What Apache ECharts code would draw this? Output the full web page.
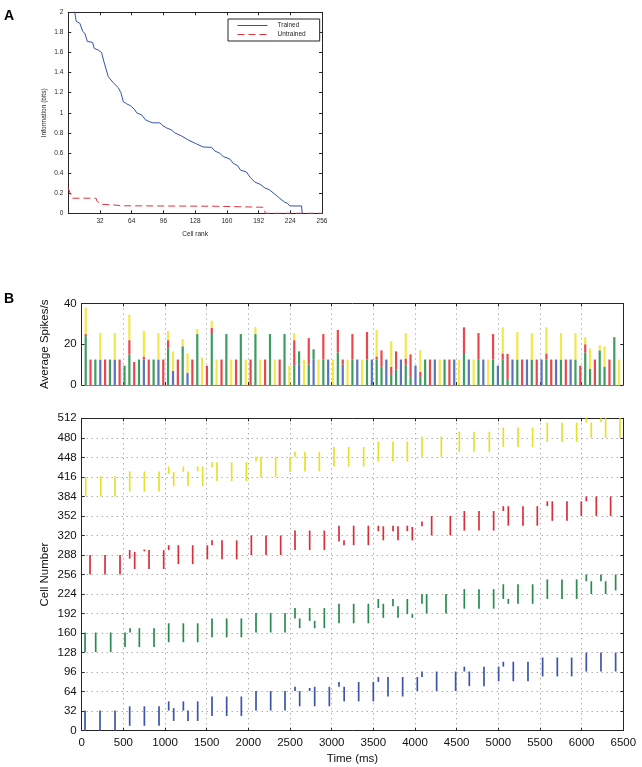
<!DOCTYPE html>
<html><head><meta charset="utf-8">
<script src="https://cdn.jsdelivr.net/npm/echarts@6/dist/echarts.min.js"></script>
<style>html,body{margin:0;padding:0;background:#fff}#c{width:642px;height:767px}</style>
</head><body><div id="c"></div>
<script>
// ---------- Panel A data ----------
const trainedRank = [1,6.5,8,11.7,14.5,16.8,19.2,24.5,26.2,30.2,33.6,35.9,40.3,45.3,50.4,53.1,55.5,58.8,62.8,67.2,68.9,73.9,77.9,82.3,85.7,92.4,95.7,99.1,104,107.5,114.2,121,129.4,136,144.5,147.8,152.9,156.3,163,166.4,170.8,173.8,179.9,183.3,188.3,193.4,198.4,202.8,208.5,213.6,218.6,221,223.6,235.4,236];
const trainedInfo = [2.4,2.0,1.91,1.89,1.81,1.79,1.71,1.70,1.64,1.625,1.60,1.51,1.36,1.30,1.25,1.20,1.11,1.09,1.07,1.03,1.00,0.98,0.93,0.91,0.90,0.90,0.87,0.85,0.83,0.80,0.77,0.73,0.69,0.66,0.656,0.62,0.598,0.565,0.54,0.498,0.474,0.43,0.41,0.36,0.31,0.29,0.252,0.235,0.19,0.148,0.108,0.10,0.073,0.073,0];
const untrainedRank = [0,2,3,4,28,29,31,33,35,46,48,54,56,149,151,197,199,256];
const untrainedInfo = [0.25,0.24,0.17,0.15,0.15,0.12,0.115,0.09,0.083,0.083,0.075,0.075,0.07,0.07,0.06,0.06,0,0];
const xTicksA = [0,32,64,96,128,160,192,224,256];

// ---------- Panel B histogram data (bin centre times, ms) ----------
const binTimes = [48,106,164,223,281,339,397,455,514,572,630,688,746,805,863,921,979,1037,1096,1154,1212,1270,1328,1387,1445,1503,1561,1619,1678,1736,1794,1852,1910,1969,2027,2085,2143,2201,2260,2318,2376,2434,2492,2551,2609,2667,2725,2783,2842,2900,2958,3016,3074,3133,3191,3249,3307,3365,3424,3482,3540,3598,3656,3715,3773,3831,3889,3947,4006,4064,4122,4180,4238,4297,4355,4413,4471,4529,4588,4646,4704,4762,4820,4879,4937,4995,5053,5111,5170,5228,5286,5344,5402,5461,5519,5577,5635,5693,5752,5810,5868,5926,5984,6043,6101,6159,6217,6275,6334,6392,6450];
const histBlue = [0,0,0,12.5,0,0,12.5,0,0,0, 0,0,12.5,0,0,12.5,0,0,7,0, 0,6,0,0,0,0,0,0,0,0, 0,0,0,0,0,0,0,0,0,0, 0,0,0,0,10,0,0,12.5,0,0, 12.5,0,0,10,0,0,12.5,0,0,12.5, 0,0,12.5,0,0,12.5,0,0,9.5,0, 0,0,12.5,0,0,0,12.5,0,0,12.5, 0,0,12.5,0,0,9.5,0,0,12.5,0, 0,12.5,0,0,12.5,0,0,12.5,0,0, 12.5,0,0,0,0,0,0,0,0,0, 0];
const histGreen = [24,0,12.5,0,0,12.5,0,0,9.5,15, 0,12.5,0,0,12.5,0,0,18,0,0, 19,0,0,25,0,0,25,0,0,25, 0,0,25,0,0,25,0,0,25,0, 0,25,0,9.5,6.5,0,10,5,0,12.5, 0,0,16,0,0,12.5,0,0,12.5,0, 12.5,9,0,5,7.5,0,10,4,0,4, 12.5,0,0,0,12.5,0,0,0,15.7,0, 0,12.5,0,0,12.5,0,12.5,3,0,12.5, 0,0,12.5,0,0,12.5,0,0,12.5,0, 0,12.5,0,16,8,0,17,9,0,23.5, 0];
const histRed = [1,12.5,0,0,12.5,0,0,12.5,0,7, 11.3,0,1.5,12.5,0,0,12.5,4,0,12.5, 0,0,12.5,0,0,9.5,3,0,12.5,0, 0,12.5,0,0,12.5,0,0,12.5,0,0, 12.5,0,0,12.5,0,0,13,0,0,12.5, 0,0,11,2.5,0,12.5,0,0,13.5,0, 1.5,8,0,4,9,0,3,11,0,2.5, 0,12.5,0,0,0,12.5,0,0,12.6,0, 0,13,0,0,12.5,0,3,12.3,0,0, 12.5,0,0,12.5,0,3,12.5,0,0,12.5, 0,0,9.5,4,0,12.5,0,0,12.5,0, 0];
const histYellow = [13,0,0,13,0,0,13,0,0,12.5, 0,0,12.5,0,0,13,0,4.5,9.5,0, 3.5,9.5,0,2.5,13.5,0,3.5,12.5,0,0, 12.5,0,0,12.5,0,3.5,12.5,0,0,12.5, 0,0,9.5,3.5,0,12.5,0,0,12.5,0, 0,12.5,0,0,12.5,0,0,12.5,0,0, 13,0,0,12.5,0,0,12.5,0,0,10.5, 0,0,0,12.5,0,0,0,12.5,0,0, 12.5,0,0,12.5,0,0,12.8,0,0,13.5, 0,0,13,0,0,12.8,0,0,13,0, 0,13,0,3.5,10,0,2.5,10,0,0, 12.5];

// ---------- Panel B raster data: [time ms, first cell, last cell] ----------
const blueSpikes = [[40,0,33],[220,0,33],[400,0,33],[576,8,40],[752,8,40],[928,8,40],[1044,33,48],[1104,16,37],[1220,33,48],[1276,16,33],[1392,16,48],[1564,24,56],[1740,24,56],[1916,24,56],[2092,33,65],[2268,33,65],[2440,33,65],[2560,65,72],[2616,40,65],[2736,65,70],[2796,40,72],[2972,40,72],[3088,72,80],[3150,48,72],[3324,48,80],[3500,48,80],[3560,80,88],[3676,56,88],[3852,56,88],[4028,65,88],[4084,88,97],[4260,65,97],[4488,65,97],[4592,97,105],[4652,73,97],[4828,73,105],[5004,81,105],[5060,105,113],[5180,81,113],[5356,81,113],[5532,89,120],[5708,89,120],[5880,89,120],[6056,97,128],[6232,97,128],[6408,97,128]];
const greenSpikes = [[40,129,161],[168,129,161],[348,129,161],[520,137,161],[580,161,168],[692,137,168],[868,137,168],[1044,145,176],[1220,145,176],[1392,145,176],[1564,153,184],[1740,153,184],[1916,153,184],[2092,161,193],[2268,161,193],[2440,161,193],[2560,184,201],[2616,168,184],[2736,180,201],[2796,168,180],[2912,168,201],[3088,176,208],[3264,176,208],[3440,176,208],[3560,201,216],[3620,185,208],[3736,204,216],[3796,185,204],[3908,191,216],[3968,185,191],[4084,208,224],[4140,192,224],[4372,192,224],[4592,200,232],[4768,200,232],[4944,200,232],[5060,216,240],[5120,208,216],[5236,208,240],[5412,208,240],[5588,216,248],[5764,216,248],[5940,216,248],[6056,245,256],[6116,224,245],[6232,245,256],[6288,224,245],[6408,230,256]];
const redSpikes = [[100,256,288],[280,256,288],[460,256,288],[576,282,296],[636,265,293],[752,294,297],[808,265,296],[984,265,296],[1044,296,304],[1160,273,304],[1332,273,304],[1508,281,304],[1564,304,312],[1684,281,312],[1860,281,312],[2036,288,320],[2212,288,320],[2388,288,320],[2560,296,328],[2736,296,328],[2912,296,328],[3088,310,336],[3148,304,312],[3264,304,336],[3440,304,336],[3560,327,336],[3620,312,335],[3736,327,336],[3796,312,335],[3908,327,336],[3968,312,334],[4084,335,343],[4200,320,352],[4424,320,352],[4592,328,360],[4768,328,360],[4944,328,360],[5060,360,368],[5120,336,368],[5296,336,368],[5468,336,368],[5588,368,376],[5648,344,376],[5824,344,376],[5996,352,376],[6056,376,384],[6176,352,384],[6348,352,384]];
const yellowSpikes = [[48,385,416],[228,384,417],[400,384,417],[576,392,425],[752,392,425],[928,392,425],[1044,421,433],[1104,401,424],[1220,424,433],[1276,401,425],[1392,425,433],[1452,401,433],[1564,432,440],[1624,409,440],[1800,409,440],[1976,409,440],[2092,441,449],[2152,416,449],[2328,416,449],[2500,424,449],[2560,449,457],[2680,425,457],[2852,425,457],[3028,433,465],[3204,433,465],[3384,433,465],[3560,441,474],[3736,441,474],[3908,441,474],[4084,449,482],[4316,449,482],[4532,457,490],[4708,457,490],[4892,457,490],[5060,465,497],[5236,465,497],[5412,465,497],[5588,473,505],[5764,473,505],[5940,473,505],[6056,505,512],[6116,480,505],[6232,506,512],[6288,480,512],[6460,480,512]];

// ---------- build chart ----------
const FONT = '"Liberation Sans", Arial, Helvetica, sans-serif';
const AX = '#262626';
const HIST_COLORS = ['#5b73bd', '#3d9c60', '#e9474f', '#f2e84a'];
const zip = (a, b) => a.map((v, i) => [v, b[i]]);
const histRows = binTimes.map((t, i) => [t, histBlue[i], histGreen[i], histRed[i], histYellow[i]]);

function boxAxis(extra) {
  return Object.assign({
    axisLine: {show: true, onZero: false, lineStyle: {color: AX, width: 1}},
    axisTick: {show: true, inside: true, length: 3, lineStyle: {color: AX}},
    axisLabel: {show: false},
    splitLine: {show: false},
    nameMoveOverlap: false
  }, extra);
}
const dotted = {show: true, lineStyle: {color: '#8a8a8a', type: [1, 4], width: 1}};

function spikeItem(params, api) {
  const p0 = api.coord([api.value(0), api.value(1)]);
  const p1 = api.coord([api.value(0), api.value(2)]);
  return {type: 'line', shape: {x1: p0[0], y1: p0[1], x2: p1[0], y2: p1[1]},
          style: {stroke: api.visual('color'), lineWidth: 1.7}};
}
function spikeSeries(data, color) {
  return {type: 'custom', xAxisIndex: 4, yAxisIndex: 4, renderItem: spikeItem,
          itemStyle: {color: color}, encode: {x: 0, y: [1, 2]}, data: data, silent: true, animation: false};
}
function histItem(params, api) {
  const t = api.value(0);
  let acc = 0;
  const children = [];
  for (let k = 0; k < 4; k++) {
    const v = api.value(k + 1);
    if (v > 0) {
      const p0 = api.coord([t, acc]);
      const p1 = api.coord([t, acc + v]);
      children.push({type: 'rect', shape: {x: p0[0] - 1.1, y: p1[1], width: 2.2, height: p0[1] - p1[1]},
                     style: {fill: HIST_COLORS[k]}});
    }
    acc += v;
  }
  return {type: 'group', children: children};
}
const numFmt = v => String(v);
const labA = {show: true, fontSize: 6.5, color: AX, fontFamily: FONT};
const labB = {show: true, fontSize: 11.5, color: '#111', fontFamily: FONT, formatter: numFmt};

const option = {
  backgroundColor: '#fff',
  animation: false,
  textStyle: {fontFamily: FONT},
  title: [
    {text: 'A', left: 4, top: 9, padding: 0, textStyle: {fontSize: 14, fontWeight: 'bold', color: '#000', fontFamily: FONT}},
    {text: 'B', left: 4, top: 292, padding: 0, textStyle: {fontSize: 14, fontWeight: 'bold', color: '#000', fontFamily: FONT}}
  ],
  legend: {
    data: ['Trained', 'Untrained'], left: 228, top: 19, orient: 'vertical',
    itemWidth: 30, itemHeight: 7, itemGap: 2, padding: [3, 14, 3, 9],
    borderColor: AX, borderWidth: 1, backgroundColor: '#fff', borderRadius: 0,
    itemStyle: {opacity: 0, borderWidth: 0},
    lineStyle: {width: 1},
    textStyle: {fontSize: 6.5, color: AX, fontFamily: FONT, padding: [0, 0, 0, 5]},
    selectedMode: false
  },
  grid: [
    {left: 68.3, top: 12.3, width: 253.7, height: 201, containLabel: false, outerBoundsMode: 'none'},
    {left: 81.7, top: 303.5, width: 541.6, height: 81.5, containLabel: false, outerBoundsMode: 'none'},
    {left: 81.7, top: 418.3, width: 541.6, height: 312.4, containLabel: false, outerBoundsMode: 'none'}
  ],
  xAxis: [
    boxAxis({type: 'value', gridIndex: 0, position: 'bottom', min: 0, max: 256, interval: 32,
      axisLabel: Object.assign({}, labA, {margin: 4, formatter: v => (xTicksA.indexOf(v) > 0 ? String(v) : '')}),
      name: 'Cell rank', nameLocation: 'middle', nameGap: 17,
      nameTextStyle: {fontSize: 6.5, color: AX, fontFamily: FONT}}),
    boxAxis({type: 'value', gridIndex: 0, position: 'top', min: 0, max: 256, interval: 32}),
    boxAxis({type: 'value', gridIndex: 1, position: 'bottom', min: 0, max: 6500, interval: 500,
      axisLine: {show: true, onZero: false, lineStyle: {color: '#8c8c3c', width: 1}},
      splitLine: dotted}),
    boxAxis({type: 'value', gridIndex: 1, position: 'top', min: 0, max: 6500, interval: 500}),
    boxAxis({type: 'value', gridIndex: 2, position: 'bottom', min: 0, max: 6500, interval: 500,
      axisLabel: Object.assign({}, labB, {margin: 6}), splitLine: dotted,
      name: 'Time (ms)', nameLocation: 'middle', nameGap: 22,
      nameTextStyle: {fontSize: 11.5, color: '#111', fontFamily: FONT}}),
    boxAxis({type: 'value', gridIndex: 2, position: 'top', min: 0, max: 6500, interval: 500})
  ],
  yAxis: [
    boxAxis({type: 'value', gridIndex: 0, position: 'left', min: 0, max: 2, interval: 0.2,
      axisLabel: Object.assign({}, labA, {margin: 5}),
      name: 'Information (bits)', nameLocation: 'middle', nameGap: 21,
      nameTextStyle: {fontSize: 6.5, color: AX, fontFamily: FONT}}),
    boxAxis({type: 'value', gridIndex: 0, position: 'right', min: 0, max: 2, interval: 0.2}),
    boxAxis({type: 'value', gridIndex: 1, position: 'left', min: 0, max: 40, interval: 20,
      axisLabel: Object.assign({}, labB, {margin: 5}),
      name: 'Average Spikes/s', nameLocation: 'middle', nameGap: 31,
      nameTextStyle: {fontSize: 11.5, color: '#111', fontFamily: FONT}}),
    boxAxis({type: 'value', gridIndex: 1, position: 'right', min: 0, max: 40, interval: 20}),
    boxAxis({type: 'value', gridIndex: 2, position: 'left', min: 0, max: 512, interval: 32,
      axisLabel: Object.assign({}, labB, {margin: 5}), splitLine: dotted,
      name: 'Cell Number', nameLocation: 'middle', nameGap: 31,
      nameTextStyle: {fontSize: 11.5, color: '#111', fontFamily: FONT}}),
    boxAxis({type: 'value', gridIndex: 2, position: 'right', min: 0, max: 512, interval: 32})
  ],
  series: [
    {type: 'line', name: 'Trained', xAxisIndex: 0, yAxisIndex: 0, data: zip(trainedRank, trainedInfo),
     symbol: 'none', showSymbol: false, clip: true, lineStyle: {color: '#3552ac', width: 1}, itemStyle: {color: '#3552ac'}},
    {type: 'line', name: 'Untrained', xAxisIndex: 0, yAxisIndex: 0, data: zip(untrainedRank, untrainedInfo),
     symbol: 'none', showSymbol: false, clip: true, lineStyle: {color: '#e0343c', width: 1, type: [7, 4]}, itemStyle: {color: '#e0343c'}},
    {type: 'custom', xAxisIndex: 2, yAxisIndex: 2, renderItem: histItem, encode: {x: 0, y: [1, 2, 3, 4]},
     data: histRows, silent: true, animation: false},
    spikeSeries(blueSpikes, '#3d55a6'),
    spikeSeries(greenSpikes, '#2b8a50'),
    spikeSeries(redSpikes, '#d92f3b'),
    spikeSeries(yellowSpikes, '#e6e12a')
  ]
};
const chart = echarts.init(document.getElementById('c'), null, {renderer: 'canvas', width: 642, height: 767});
chart.setOption(option);
</script></body></html>
